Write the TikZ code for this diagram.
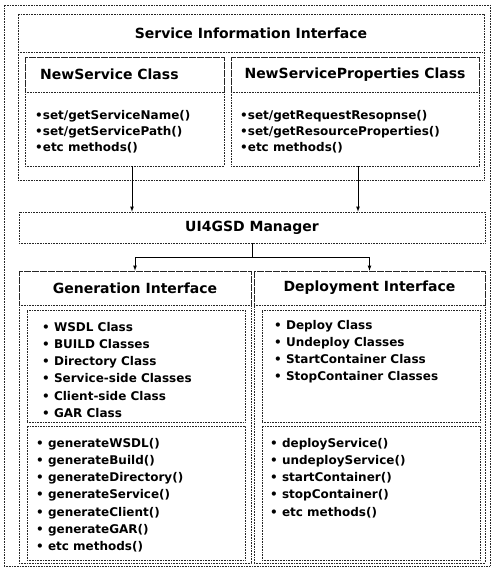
\documentclass[tikz,border=0pt]{standalone}
\usepackage{fontspec}
\setmainfont{DejaVu Sans}
\tikzset{>=latex}

\begin{document}
\begin{tikzpicture}[x=1pt,y=-1pt]
\useasboundingbox (0,0) rectangle (495,567);
\begin{scope}[every node/.style={rectangle,draw=black!85,densely dotted,line width=0.6pt,inner sep=0pt,font=\bfseries\fontsize{14}{16}\selectfont}]
\node[minimum width=486,minimum height=561] (frame) at (247,285.5) {};
\node[minimum width=466,minimum height=166] (sii) at (251,97) {};
\node[minimum width=466,minimum height=38] (siititle) at (251,33) {Service Information Interface};
% two class boxes of the service information interface
\node[minimum width=199,minimum height=109] (ns) at (124.5,111.5) {};
\node[minimum width=199,minimum height=35] (nstitle) at (124.5,74.5) {};
\node[minimum width=248,minimum height=109] (nsp) at (355,111.5) {};
\node[minimum width=248,minimum height=35] (nsptitle) at (355,74.5) {NewServiceProperties Class};
\node[minimum width=466,minimum height=31] (mgr) at (252,227.5) {UI4GSD Manager};
% generation / deployment
\node[minimum width=232,minimum height=292] (gen) at (135,417) {};
\node[minimum width=232,minimum height=34] (gentitle) at (135,288) {Generation Interface};
\node[minimum width=218,minimum height=112] (genclass) at (136,366) {};
\node[minimum width=218,minimum height=134] (genmeth) at (136,493) {};
\node[minimum width=231,minimum height=292] (dep) at (369.5,417) {};
\node[minimum width=231,minimum height=34] (deptitle) at (369.5,288) {Deployment Interface};
\node[minimum width=218,minimum height=112] (depclass) at (371,366) {};
\node[minimum width=218,minimum height=134] (depmeth) at (371,493) {};
\end{scope}
\begin{scope}[every node/.style={align=left,inner sep=0pt,anchor=north west,font=\bfseries\fontsize{12}{16}\selectfont}]
\node[anchor=west,font=\bfseries\fontsize{14}{16}\selectfont] (nsname) at (40,74.5) {NewService Class};
\node (nslist) at (35,110) {•set/getServiceName()\\•set/getServicePath()\\•etc methods()};
\node (nsplist) at (240,110) {•set/getRequestResopnse()\\•set/getResourceProperties()\\•etc methods()};
\end{scope}
\begin{scope}[every node/.style={align=left,inner sep=0pt,anchor=north west,font=\bfseries\fontsize{12}{17.2}\selectfont}]
\node (genclasslist) at (42,322) {• WSDL Class\\• BUILD Classes\\• Directory Class\\• Service-side Classes\\• Client-side Class\\• GAR Class};
\node (genmethlist) at (36,438) {• generateWSDL()\\• generateBuild()\\• generateDirectory()\\• generateService()\\• generateClient()\\• generateGAR()\\• etc methods()};
\node (depclasslist) at (274,320) {• Deploy Class\\• Undeploy Classes\\• StartContainer Class\\• StopContainer Classes};
\node (depmethlist) at (270,438) {• deployService()\\• undeployService()\\• startContainer()\\• stopContainer()\\• etc methods()};
\end{scope}
\begin{scope}[line width=0.8pt]
\draw[->] ([xshift=7.5pt]ns.south) -- ([xshift=7.5pt]ns.south |- mgr.north);
\draw[->] ([xshift=3pt]nsp.south) -- ([xshift=3pt]nsp.south |- mgr.north);
\coordinate (fork) at (252,257);
\draw (mgr.south) -- (fork);
\draw[->] (fork) -| (gen.north);
\draw[->] (fork) -| (dep.north);
\end{scope}
\end{tikzpicture}
\end{document}
